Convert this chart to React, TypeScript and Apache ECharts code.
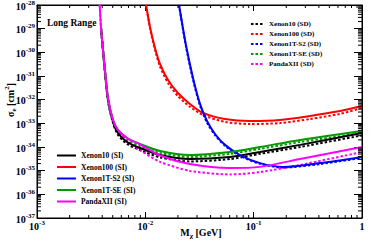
import React, { useEffect, useRef } from 'react';
import * as echarts from 'echarts';

const siNames = ['Xenon10 (SI)', 'Xenon100 (SI)', 'Xenon1T-S2 (SI)', 'Xenon1T-SE (SI)', 'PandaXII (SI)'];
const sdNames = ['Xenon10 (SD)', 'Xenon100 (SD)', 'Xenon1T-S2 (SD)', 'Xenon1T-SE (SD)', 'PandaXII (SD)'];
const colors = ['#000000', '#ff0000', '#0000ff', '#009a00', '#ff00ff'];

// masses in GeV, cross sections as log10(sigma_e / cm^2)
const lowMass = [0.0039, 0.00415, 0.00452, 0.00503, 0.00559, 0.00678, 0.0089, 0.0137, 0.0258, 0.0605, 0.114, 0.268, 1.0];
const pandaMass = [0.00379, 0.0039, 0.00415, 0.00452, 0.00503, 0.00559, 0.00678, 0.0089, 0.0137, 0.0258, 0.0605, 0.114, 0.268, 1.0];
const xenon10SI = [-28.97, -30.37, -32.01, -32.94, -33.41, -33.79, -34.04, -34.34, -34.51, -34.42, -34.21, -33.91, -33.41];
const xenon10SD = [-28.97, -30.37, -32.06, -32.99, -33.49, -33.87, -34.13, -34.44, -34.61, -34.51, -34.29, -34.0, -33.51];
const xenon1TSESI = [-28.97, -30.32, -31.93, -32.86, -33.28, -33.62, -33.87, -34.17, -34.34, -34.21, -34.0, -33.7, -33.32];
const xenon1TSESD = [-28.97, -30.32, -31.97, -32.9, -33.32, -33.7, -33.96, -34.25, -34.42, -34.29, -34.08, -33.79, -33.41];
const pandaSI = [-28.0, -28.97, -30.32, -31.93, -32.86, -33.28, -33.62, -33.89, -34.36, -34.72, -34.89, -34.84, -34.51, -34.0];
const pandaSD = [-28.0, -28.97, -30.32, -31.97, -32.9, -33.37, -33.75, -34.13, -34.63, -35.01, -35.16, -35.06, -34.76, -34.21];
const xenon100Mass = [0.01015, 0.01104, 0.01228, 0.01366, 0.0162, 0.02, 0.0258, 0.0341, 0.0544, 0.0925, 0.175, 0.331, 0.627, 1.0];
const xenon100SI = [-28.0, -28.93, -29.82, -30.49, -31.17, -31.72, -32.18, -32.56, -32.82, -32.9, -32.86, -32.69, -32.48, -32.27];
const xenon100SD = [-28.0, -28.97, -29.9, -30.6, -31.3, -31.85, -32.3, -32.65, -32.94, -33.03, -32.99, -32.82, -32.6, -32.35];
const xenon1TS2Mass = [0.02046, 0.0237, 0.02754, 0.03196, 0.0371, 0.044, 0.0544, 0.0748, 0.1144, 0.1866, 0.41, 1.0];
const xenon1TS2SI = [-28.0, -29.69, -31.08, -32.18, -32.9, -33.45, -33.91, -34.34, -34.68, -34.84, -34.68, -34.42];
const xenon1TS2SD = [-28.0, -29.75, -31.15, -32.25, -32.97, -33.5, -33.95, -34.37, -34.71, -34.87, -34.72, -34.46];

const xMin = 1e-3, xMax = 1;
// y axis holds log10(sigma), -37 .. -28
const yMin = -37, yMax = -28;
const fontFamily = "'Liberation Serif', 'Times New Roman', serif";

const richLabel = {
  b: { fontSize: 10, fontWeight: 'bold', fontFamily, color: '#000', lineHeight: 12, verticalAlign: 'bottom' },
  s: { fontSize: 7, fontWeight: 'bold', fontFamily, color: '#000', lineHeight: 2, verticalAlign: 'top' },
};
const fmtX = (v: number) => {
  const e = Math.round(Math.log10(v));
  return e === 0 ? '{b|1}' : `{b|10}{s|${e}}`;
};
const fmtY = (v: number) => `{b|10}{s|${Math.round(v)}}`;

function mk(name: string, mass: number[], logs: number[], color: string, dashed: boolean) {
  return {
    type: 'line',
    name,
    data: mass.map((m, i) => [m, logs[i]]),
    showSymbol: false,
    symbol: 'none',
    smooth: 0.25,
    clip: true,
    lineStyle: { color, width: 2, type: dashed ? [2.5, 2] : 'solid' },
    itemStyle: { color },
    z: dashed ? 2 : 3,
  };
}

export default function App() {
  const ref = useRef<HTMLDivElement>(null);
  useEffect(() => {
    if (!ref.current) return;
    const chart = echarts.init(ref.current, undefined, { renderer: 'svg' });

    const xMinor: number[] = [];
    for (let e = -3; e < 0; e++) for (let k = 2; k <= 9; k++) xMinor.push(k * Math.pow(10, e));
    const yMinor: number[] = [];
    for (let e = yMin; e < yMax; e++) for (let k = 2; k <= 9; k++) yMinor.push(e + Math.log10(k));

    const axisLine = { show: true, lineStyle: { color: '#000', width: 1 } };

    const series: any[] = [
      mk(sdNames[0], lowMass, xenon10SD, colors[0], true),
      mk(sdNames[1], xenon100Mass, xenon100SD, colors[1], true),
      mk(sdNames[2], xenon1TS2Mass, xenon1TS2SD, colors[2], true),
      mk(sdNames[3], lowMass, xenon1TSESD, colors[3], true),
      mk(sdNames[4], pandaMass, pandaSD, colors[4], true),
      mk(siNames[0], lowMass, xenon10SI, colors[0], false),
      mk(siNames[1], xenon100Mass, xenon100SI, colors[1], false),
      mk(siNames[2], xenon1TS2Mass, xenon1TS2SI, colors[2], false),
      mk(siNames[3], lowMass, xenon1TSESI, colors[3], false),
      mk(siNames[4], pandaMass, pandaSI, colors[4], false),
      {
        type: 'custom',
        name: 'xminor',
        silent: true,
        z: 6,
        data: xMinor.map((v) => [v, yMin]),
        renderItem: (params: any, api: any) => {
          const v = api.value(0);
          const b = api.coord([v, yMin]);
          const t = api.coord([v, yMax]);
          return {
            type: 'group',
            children: [
              { type: 'line', shape: { x1: b[0], y1: b[1], x2: b[0], y2: b[1] - 3 }, style: { stroke: '#000', lineWidth: 1 } },
              { type: 'line', shape: { x1: t[0], y1: t[1], x2: t[0], y2: t[1] + 3 }, style: { stroke: '#000', lineWidth: 1 } },
            ],
          };
        },
      },
      {
        type: 'custom',
        name: 'yminor',
        silent: true,
        z: 6,
        data: yMinor.map((v) => [xMin, v]),
        renderItem: (params: any, api: any) => {
          const v = api.value(1);
          const l = api.coord([xMin, v]);
          const r = api.coord([xMax, v]);
          return {
            type: 'group',
            children: [
              { type: 'line', shape: { x1: l[0], y1: l[1], x2: l[0] + 4, y2: l[1] }, style: { stroke: '#000', lineWidth: 1 } },
              { type: 'line', shape: { x1: r[0], y1: r[1], x2: r[0] - 4, y2: r[1] }, style: { stroke: '#000', lineWidth: 1 } },
            ],
          };
        },
      },
    ];

    const legendText = { fontFamily, fontWeight: 'bold', color: '#000' };

    chart.setOption({
      animation: false,
      backgroundColor: '#fff',
      grid: {
        left: 37, right: 12, top: 5, bottom: 24, show: true, borderColor: '#000', borderWidth: 1,
        backgroundColor: 'transparent', containLabel: false, outerBoundsMode: 'none',
      },
      xAxis: [
        {
          type: 'log', logBase: 10, min: xMin, max: xMax, position: 'bottom',
          axisLine, axisTick: { inside: true, length: 6, lineStyle: { color: '#000' } },
          axisLabel: { formatter: fmtX, rich: richLabel, margin: 1, showMinLabel: true, showMaxLabel: true },
          splitLine: { show: false },
        },
        {
          type: 'log', logBase: 10, min: xMin, max: xMax, position: 'top',
          axisLine, axisTick: { inside: true, length: 6, lineStyle: { color: '#000' } },
          axisLabel: { show: false }, splitLine: { show: false },
        },
      ],
      yAxis: [
        {
          type: 'value', min: yMin, max: yMax, interval: 1, position: 'left',
          axisLine, axisTick: { inside: true, length: 8, lineStyle: { color: '#000' } },
          axisLabel: { formatter: fmtY, rich: richLabel, margin: 2, showMinLabel: true, showMaxLabel: true },
          splitLine: { show: false },
        },
        {
          type: 'value', min: yMin, max: yMax, interval: 1, position: 'right',
          axisLine, axisTick: { inside: true, length: 8, lineStyle: { color: '#000' } },
          axisLabel: { show: false }, splitLine: { show: false },
        },
      ],
      legend: [
        {
          data: siNames, orient: 'vertical', left: 56, top: 150.5, padding: 0,
          itemWidth: 19, itemHeight: 6, itemGap: 1.5, selectedMode: false,
          itemStyle: { opacity: 0 },
          textStyle: { ...legendText, fontSize: 7.5, lineHeight: 10 },
        },
        {
          data: sdNames, orient: 'vertical', left: 250, top: 20, padding: 0,
          itemWidth: 13, itemHeight: 6, itemGap: 2, selectedMode: false,
          itemStyle: { opacity: 0 },
          textStyle: { ...legendText, fontSize: 7, lineHeight: 8 },
        },
      ],
      graphic: [
        {
          type: 'text', left: 47, top: 18, silent: true,
          style: { text: 'Long Range', fontFamily, fontWeight: 'bold', fontSize: 9.5, fill: '#000' },
        },
        {
          type: 'text', x: 201, y: 233, silent: true,
          style: {
            text: '{a|M}{sub|χ}{a| [GeV]}',
            align: 'center', verticalAlign: 'middle',
            rich: {
              a: { fontSize: 10, fontWeight: 'bold', fontFamily, fill: '#000', lineHeight: 12, verticalAlign: 'top' },
              sub: { fontSize: 7, fontWeight: 'bold', fontFamily, fill: '#000', lineHeight: 4, verticalAlign: 'bottom' },
            },
          },
        },
        {
          type: 'text', x: 10, y: 100, rotation: Math.PI / 2, silent: true,
          style: {
            text: '{a|σ}{sub|e}{a| [cm}{sup|2}{a|]}',
            align: 'center', verticalAlign: 'middle',
            rich: {
              a: { fontSize: 10, fontWeight: 'bold', fontFamily, fill: '#000', lineHeight: 12, verticalAlign: 'middle' },
              sub: { fontSize: 7, fontWeight: 'bold', fontFamily, fill: '#000', lineHeight: 14, verticalAlign: 'bottom' },
              sup: { fontSize: 7, fontWeight: 'bold', fontFamily, fill: '#000', lineHeight: 14, verticalAlign: 'top' },
            },
          },
        },
      ],
      series,
    });
    return () => chart.dispose();
  }, []);
  return <div ref={ref} style={{ width: 374, height: 242, position: 'absolute', left: 0, top: 0 }} />;
}
